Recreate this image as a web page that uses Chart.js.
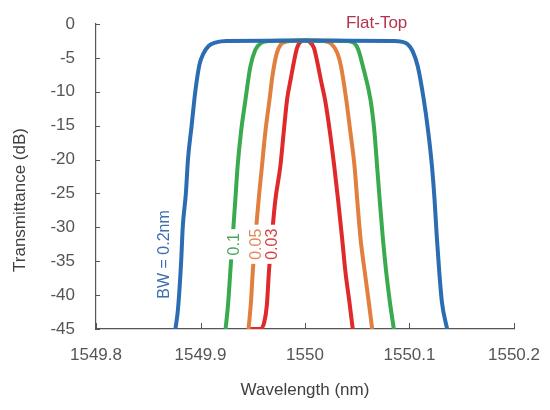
<!DOCTYPE html>
<html>
<head>
<meta charset="utf-8">
<script src="https://cdn.jsdelivr.net/npm/chart.js@4.4.1/dist/chart.umd.min.js"></script>
<style>
html,body{margin:0;padding:0;background:#fff;}
#wrap{width:550px;height:410px;position:relative;}
</style>
</head>
<body>
<div id="wrap"><canvas id="c" width="550" height="410"></canvas></div>
<script>
// ---- data ----
const xTicks = [1549.8, 1549.9, 1550, 1550.1, 1550.2];
const yTicks = [0, -5, -10, -15, -20, -25, -30, -35, -40, -45];

const bw02X = [1549.876,1549.8785,1549.8815,1549.883,1549.886,1549.888,1549.8915,1549.895,1549.899,1549.903,1549.908,1549.915,1549.925,1550.0,1550.085,1550.092,1550.098,1550.103,1550.108,1550.1135,1550.118,1550.1215,1550.124,1550.1262,1550.1285,1550.131,1550.136];
const bw02Y = [-45,-42,-35,-30,-25,-20,-15,-10,-6,-4.3,-3.2,-2.7,-2.5,-2.45,-2.5,-2.6,-2.95,-4,-6.3,-11,-16,-21,-26,-31.6,-36.6,-41,-45];

const bw01X = [1549.924,1549.9263,1549.9285,1549.9333,1549.9355,1549.9387,1549.943,1549.9477,1549.9525,1549.958,1549.966,1550.0,1550.040,1550.047,1550.051,1550.0555,1550.0627,1550.0665,1550.069,1550.0715,1550.0745,1550.0777,1550.0812,1550.085];
const bw01Y = [-45,-41.5,-36.6,-26,-21,-16,-11.2,-6.3,-3.8,-2.8,-2.5,-2.45,-2.5,-2.8,-3.8,-6.3,-11.2,-16,-21,-26,-31.6,-36.6,-41,-45];

const bw005X = [1549.946,1549.9483,1549.950,1549.9556,1549.9588,1549.962,1549.966,1549.969,1549.973,1549.977,1549.982,1550.0,1550.018,1550.025,1550.031,1550.0345,1550.0395,1550.0435,1550.0474,1550.050,1550.0531,1550.0572,1550.061,1550.0643];
const bw005Y = [-45,-41,-36.6,-26,-21,-16,-11.2,-7.5,-4.3,-3,-2.6,-2.45,-2.5,-2.9,-4.3,-6.3,-11.2,-16,-21,-26,-31.6,-36.6,-41,-45];

const bw003X = [1549.9465,1549.957,1549.961,1549.9635,1549.9655,1549.9685,1549.9716,1549.9764,1549.9796,1549.9828,1549.9865,1549.9895,1549.9925,1549.996,1550.0,1550.004,1550.0085,1550.0116,1550.0155,1550.0192,1550.0239,1550.028,1550.0317,1550.0355,1550.0387,1550.0425,1550.0457];
const bw003Y = [-45,-45,-44,-41.5,-36.5,-31,-26,-21,-16,-11.2,-8,-5.5,-3.5,-2.6,-2.45,-2.6,-3.5,-5.5,-8.5,-11.2,-16,-21,-26,-31.6,-36.6,-41,-45];

const seriesNames = ["BW = 0.2nm", "0.1", "0.05", "0.03"];
const seriesColors = ["#2b6cb3", "#3aaa4f", "#e27f3e", "#e0292b"];
const labelColors = ["#3b6fae", "#4aa862", "#e08a5c", "#d8403f"];
const annotationText = "Flat-Top";

function pts(xs, ys){ return xs.map((x,i)=>({x:x, y:ys[i]})); }
const allX = [bw02X, bw01X, bw005X, bw003X];
const allY = [bw02Y, bw01Y, bw005Y, bw003Y];

const datasets = allX.map((xs,i)=>({
  label: seriesNames[i],
  data: pts(xs, allY[i]),
  borderColor: seriesColors[i],
  backgroundColor: seriesColors[i],
  borderWidth: 4,
  pointRadius: 0,
  showLine: true,
  fill: false,
  cubicInterpolationMode: 'monotone',
  borderJoinStyle: 'round',
  borderCapStyle: 'butt',
  order: i
}));

const FONT = '"Liberation Sans", Arial, sans-serif';

const decor = {
  id: 'decor',
  afterDatasetsDraw(chart){
    const ctx = chart.ctx;
    const xs = chart.scales.x, ys = chart.scales.y;
    const ca = chart.chartArea;
    ctx.save();
    ctx.strokeStyle = '#555';
    ctx.lineWidth = 1;
    xTicks.forEach(v=>{
      const px = Math.round(xs.getPixelForValue(v))+0.5;
      ctx.beginPath(); ctx.moveTo(px, ca.bottom); ctx.lineTo(px, ca.bottom-6); ctx.stroke();
    });
    yTicks.forEach(v=>{
      const py = Math.round(ys.getPixelForValue(v))+0.5;
      ctx.beginPath(); ctx.moveTo(ca.left, py); ctx.lineTo(ca.left+4, py); ctx.stroke();
    });
    const lab = [
      {t: seriesNames[0], x: 1549.8645, y: -34},
      {t: seriesNames[1], x: 1549.9315, y: -32.5},
      {t: seriesNames[2], x: 1549.9525, y: -32.5},
      {t: seriesNames[3], x: 1549.968, y: -32.5}
    ];
    ctx.font = '16px ' + FONT;
    ctx.textAlign = 'center';
    ctx.textBaseline = 'middle';
    lab.forEach((l,i)=>{
      const px = xs.getPixelForValue(l.x), py = ys.getPixelForValue(l.y);
      ctx.save();
      ctx.translate(px, py);
      ctx.rotate(-Math.PI/2);
      const w = ctx.measureText(l.t).width;
      if (i>0){ ctx.fillStyle = '#fff'; ctx.fillRect(-w/2-4, -8, w+8, 16); }
      ctx.fillStyle = labelColors[i];
      ctx.fillText(l.t, 0, 1);
      ctx.restore();
    });
    ctx.font = '17px ' + FONT;
    ctx.fillStyle = '#b3344f';
    ctx.fillText(annotationText, xs.getPixelForValue(1550.0685), 23);
    ctx.fillStyle = '#404040';
    ctx.font = '17px ' + FONT;
    ctx.fillText('Wavelength (nm)', (ca.left+ca.right)/2, 390);
    ctx.save();
    ctx.translate(20, 200);
    ctx.rotate(-Math.PI/2);
    ctx.fillText('Transmittance (dB)', 0, 0);
    ctx.restore();
    ctx.restore();
  }
};

new Chart(document.getElementById('c'), {
  type: 'scatter',
  data: { datasets },
  options: {
    responsive: false,
    animation: false,
    devicePixelRatio: 1,
    layout: { padding: { left: 0, top: 24, right: 36, bottom: 0 } },
    plugins: { legend: { display: false }, tooltip: { enabled: false } },
    scales: {
      x: {
        type: 'linear', min: 1549.8, max: 1550.2,
        afterBuildTicks(s){ s.ticks = xTicks.map(v=>({value:v})); },
        afterFit(s){ s.height = 81; s.paddingLeft = 0; s.paddingRight = 0; },
        grid: { display: true, drawOnChartArea: false, drawTicks: false },
        border: { display: true, color: '#555', width: 1.2 },
        ticks: { padding: 16, color: '#555', font: { size: 17, family: FONT },
          callback: v => String(Math.round(v*10)/10) }
      },
      y: {
        type: 'linear', min: -45, max: 0,
        afterBuildTicks(s){ s.ticks = yTicks.map(v=>({value:v})); },
        afterFit(s){ s.width = 96; s.paddingTop = 0; s.paddingBottom = 0; },
        grid: { display: true, drawOnChartArea: false, drawTicks: false },
        border: { display: true, color: '#555', width: 1.2 },
        ticks: { padding: 21, color: '#555', font: { size: 17, family: FONT } }
      }
    }
  },
  plugins: [decor]
});
</script>
</body>
</html>
